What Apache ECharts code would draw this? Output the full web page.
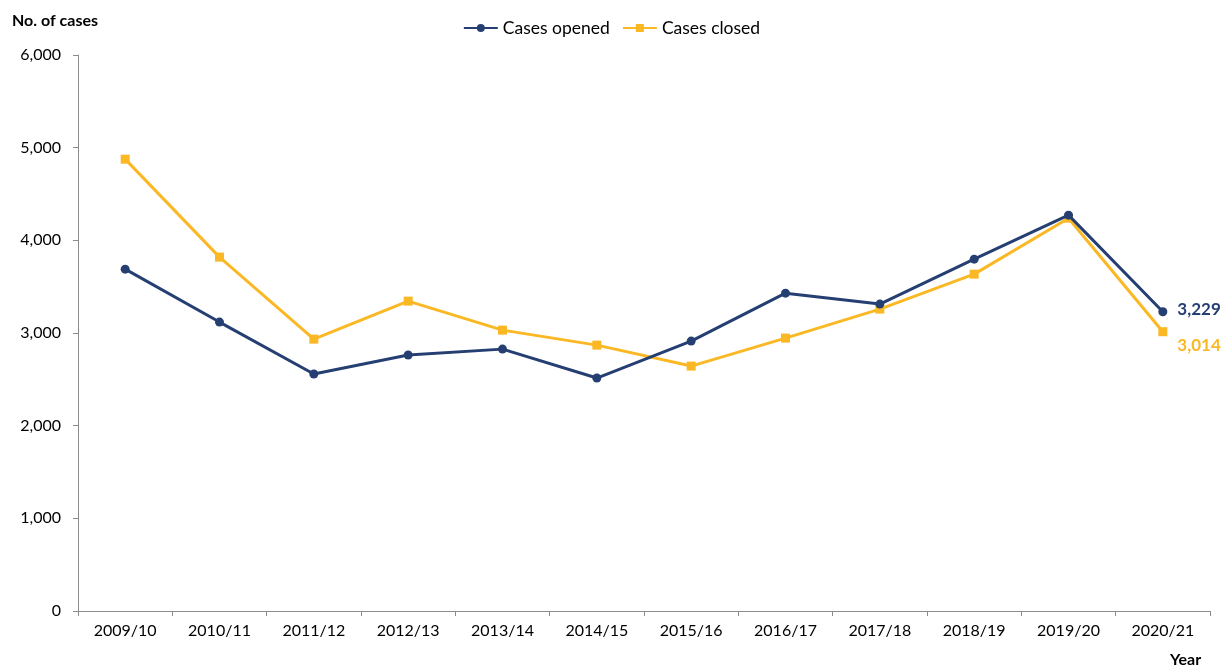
<!DOCTYPE html>
<html><head><meta charset="utf-8">
<script src="https://cdn.jsdelivr.net/npm/echarts@6/dist/echarts.min.js"></script>
<style>html,body{margin:0;padding:0;background:#fff}#c{width:1223px;height:665px}</style>
</head><body><div id="c"></div>
<script>
const categories = ['2009/10','2010/11','2011/12','2012/13','2013/14','2014/15','2015/16','2016/17','2017/18','2018/19','2019/20','2020/21'];
const casesOpened = [3689, 3118, 2557, 2762, 2826, 2514, 2913, 3430, 3312, 3797, 4272, 3229];
const casesClosed = [4876, 3819, 2934, 3344, 3031, 2869, 2643, 2945, 3258, 3635, 4239, 3014];
const seriesNames = ['Cases opened', 'Cases closed'];
const yTitle = 'No. of cases';
const xTitle = 'Year';

const NAVY = '#263F73', GOLD = '#FBB825', FONT = 'Lato, "Open Sans", sans-serif';
const chart = echarts.init(document.getElementById('c'), null, {renderer: 'canvas'});
const fmt = v => v.toLocaleString('en-US');
function lastLabel(color, offsetY) {
  return {
    show: true, position: 'right', distance: 10, offset: [0, offsetY],
    formatter: p => p.dataIndex === categories.length - 1 ? fmt(p.value) : '',
    color: color, fontWeight: 'bold', fontSize: 17, fontFamily: FONT
  };
}
chart.setOption({
  animation: false,
  textStyle: {fontFamily: FONT},
  grid: {left: 78, right: 13, top: 55, bottom: 54, containLabel: false},
  legend: {
    top: 14, left: 'center', itemWidth: 34, itemHeight: 10, itemGap: 12,
    textStyle: {fontSize: 17.5, color: '#000', fontFamily: FONT},
    data: seriesNames
  },
  graphic: [
    {type: 'text', left: 12, top: 13, style: {text: yTitle, font: 'bold 16px ' + FONT, fill: '#000'}},
    {type: 'text', left: 1170, top: 652, style: {text: xTitle, font: 'bold 16px ' + FONT, fill: '#000'}}
  ],
  xAxis: {
    type: 'category', data: categories, boundaryGap: true,
    axisLine: {lineStyle: {color: '#8c8c8c', width: 1}},
    axisTick: {show: true, length: 5, lineStyle: {color: '#8c8c8c'}},
    axisLabel: {color: '#000', fontSize: 16, margin: 12, fontFamily: FONT},
    splitLine: {show: false}
  },
  yAxis: {
    type: 'value', min: 0, max: 6000, interval: 1000,
    axisLine: {show: true, lineStyle: {color: '#8c8c8c', width: 1}},
    axisTick: {show: true, length: 5, lineStyle: {color: '#8c8c8c'}},
    axisLabel: {color: '#000', fontSize: 16, margin: 17, formatter: v => fmt(v), fontFamily: FONT},
    splitLine: {show: false}
  },
  series: [
    {
      name: seriesNames[0], type: 'line', data: casesOpened,
      symbol: 'circle', symbolSize: 9,
      lineStyle: {color: NAVY, width: 3}, itemStyle: {color: NAVY},
      label: lastLabel(NAVY, -2), z: 3
    },
    {
      name: seriesNames[1], type: 'line', data: casesClosed,
      symbol: 'rect', symbolSize: 9,
      lineStyle: {color: GOLD, width: 3}, itemStyle: {color: GOLD},
      label: lastLabel(GOLD, 14), z: 2
    }
  ]
});
</script></body></html>
